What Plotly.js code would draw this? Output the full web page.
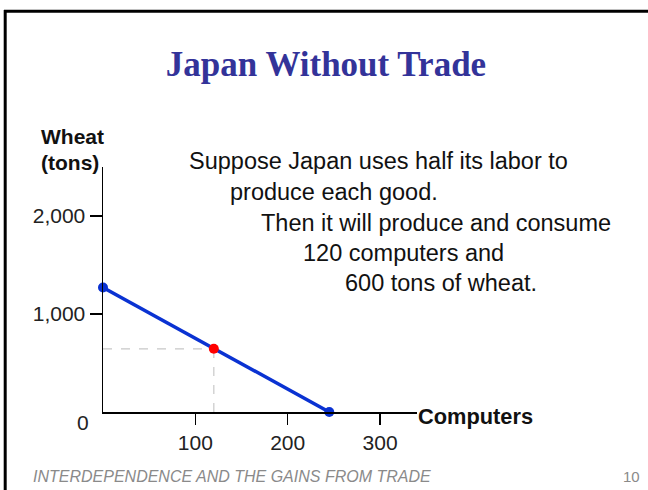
<!DOCTYPE html>
<html>
<head>
<meta charset="utf-8">
<script src="https://cdn.plot.ly/plotly-3.0.1.min.js"></script>
<style>
  html, body { margin: 0; padding: 0; background: #ffffff; }
  #chart { width: 648px; height: 490px; }
</style>
</head>
<body>
<div id="chart"></div>
<script>
// ---- data ----
const ppfComputers = [0, 245];
const ppfWheat = [1270, 0];
const consumeComputers = [120];
const consumeWheat = [645];
const xTickVals = [100, 200, 300];
const xTickText = ['100', '200', '300'];
const yTickVals = [1000, 2000];
const yTickText = ['1,000', '2,000'];
const chartTitle = 'Japan Without Trade';
const noteLines = [
  'Suppose Japan uses half its labor to',
  'produce each good.',
  'Then it will produce and consume',
  '120 computers and',
  '600 tons of wheat.'
];
const footerText = 'INTERDEPENDENCE AND THE GAINS FROM TRADE';
const pageNumber = '10';

// ---- layout geometry ----
const W = 648, H = 490;
const M = { l: 103, r: 231, t: 167, b: 78 };
const PW = W - M.l - M.r, PH = H - M.t - M.b;
const px = x => (x - M.l) / PW;
const py = y => (H - M.b - y) / PH;

const sans = 'Liberation Sans, Arial, sans-serif';

const traces = [
  { // horizontal guide
    x: [0, consumeComputers[0]], y: [consumeWheat[0], consumeWheat[0]],
    mode: 'lines', line: { color: '#c8c8c8', width: 1.2, dash: 'dash' },
    hoverinfo: 'skip', showlegend: false
  },
  { // vertical guide
    x: [consumeComputers[0], consumeComputers[0]], y: [0, consumeWheat[0]],
    mode: 'lines', line: { color: '#c8c8c8', width: 1.2, dash: 'dash' },
    hoverinfo: 'skip', showlegend: false
  },
  { // PPF
    x: ppfComputers, y: ppfWheat,
    mode: 'lines+markers',
    line: { color: '#0a32d2', width: 3.5 },
    marker: { color: '#0a32d2', size: 10 },
    cliponaxis: false, showlegend: false
  },
  { // consumption point
    x: consumeComputers, y: consumeWheat,
    mode: 'markers',
    marker: { color: '#ff0000', size: 10 },
    cliponaxis: false, showlegend: false
  }
];

const noteLeft = [187, 228, 259, 301, 343];
const noteY = [161, 192, 223, 253, 283];

const annotations = [];
noteLines.forEach((t, i) => {
  annotations.push({
    text: t, xref: 'paper', yref: 'paper',
    x: px(noteLeft[i]), y: py(noteY[i]),
    xanchor: 'left', yanchor: 'middle', showarrow: false,
    font: { family: sans, size: 23.5, color: '#111111' }
  });
});
annotations.push(
  { text: '<b>Wheat</b>', xref: 'paper', yref: 'paper', x: px(39), y: py(136),
    xanchor: 'left', yanchor: 'middle', showarrow: false,
    font: { family: sans, size: 21, color: '#111111' } },
  { text: '<b>(tons)</b>', xref: 'paper', yref: 'paper', x: px(38.5), y: py(162),
    xanchor: 'left', yanchor: 'middle', showarrow: false,
    font: { family: sans, size: 21, color: '#111111' } },
  { text: '<b>Computers</b>', xref: 'paper', yref: 'paper', x: px(416), y: py(416),
    xanchor: 'left', yanchor: 'middle', showarrow: false,
    font: { family: sans, size: 21.8, color: '#111111' } },
  { text: '0', xref: 'paper', yref: 'paper', x: px(83), y: py(422),
    xanchor: 'center', yanchor: 'middle', showarrow: false,
    font: { family: sans, size: 21, color: '#222222' } },
  { text: '<i>' + footerText + '</i>', xref: 'paper', yref: 'paper', x: px(31), y: py(476),
    xanchor: 'left', yanchor: 'middle', showarrow: false,
    font: { family: sans, size: 16, color: '#8a8a8a' } },
  { text: pageNumber, xref: 'paper', yref: 'paper', x: px(631), y: py(476),
    xanchor: 'center', yanchor: 'middle', showarrow: false,
    font: { family: sans, size: 15, color: '#8a8a8a' } }
);

const shapes = [
  { type: 'line', xref: 'paper', yref: 'paper',
    x0: px(5.2), x1: px(5.2), y0: py(10), y1: py(500),
    line: { color: '#000000', width: 3 } },
  { type: 'line', xref: 'paper', yref: 'paper',
    x0: px(4), x1: px(660), y0: py(11.3), y1: py(11.3),
    line: { color: '#000000', width: 3 } }
];

const layout = {
  width: W, height: H,
  margin: M,
  paper_bgcolor: '#ffffff', plot_bgcolor: '#ffffff',
  showlegend: false,
  title: {
    text: '<b>' + chartTitle + '</b>',
    x: 326 / W, xref: 'container', xanchor: 'center',
    y: 1 - 64 / H, yref: 'container', yanchor: 'middle',
    font: { family: 'Liberation Serif, Times New Roman, serif', size: 35, color: '#333399' }
  },
  xaxis: {
    range: [0, 340], showgrid: false, zeroline: false,
    showline: true, linecolor: '#000000', linewidth: 1.5,
    ticks: 'outside', ticklen: 11, tickwidth: 1.5, tickcolor: '#000000',
    tickvals: xTickVals, ticktext: xTickText,
    ticklabelstandoff: 0,
    tickfont: { family: sans, size: 21, color: '#222222' },
    fixedrange: true
  },
  yaxis: {
    range: [0, 2500], showgrid: false, zeroline: false,
    showline: true, linecolor: '#000000', linewidth: 1.5,
    ticks: 'outside', ticklen: 12, tickwidth: 1.5, tickcolor: '#000000',
    tickvals: yTickVals, ticktext: yTickText,
    tickfont: { family: sans, size: 21, color: '#222222' },
    fixedrange: true
  },
  annotations: annotations,
  shapes: shapes
};

Plotly.newPlot('chart', traces, layout, { displayModeBar: false, staticPlot: true });
</script>
</body>
</html>
